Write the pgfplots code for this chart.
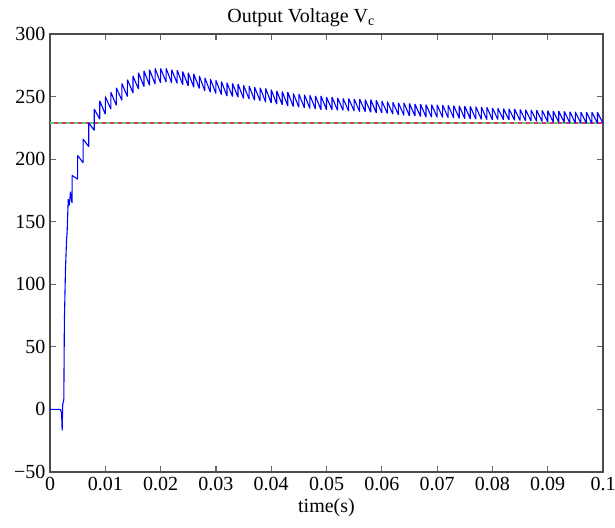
\documentclass[border=0pt]{standalone}
\usepackage{pgfplots}
\pgfplotsset{compat=1.18}
\usepackage{fontspec}
\setmainfont{Liberation Serif}
\definecolor{refgreen}{RGB}{100,205,100}
\definecolor{refmag}{RGB}{220,50,130}
\begin{document}
\begin{tikzpicture}[x=1pt,y=1pt]
\path[use as bounding box] (0,0) rectangle (615,527);
\begin{axis}[
  at={(50pt,55pt)}, anchor=south west,
  width=553pt, height=438pt, scale only axis,
  xmin=0, xmax=0.1, ymin=-50, ymax=300,
  xtick={0,0.01,0.02,0.03,0.04,0.05,0.06,0.07,0.08,0.09,0.1},
  xticklabels={\textrm{0},\textrm{0.01},\textrm{0.02},\textrm{0.03},\textrm{0.04},\textrm{0.05},\textrm{0.06},\textrm{0.07},\textrm{0.08},\textrm{0.09},\textrm{0.1}},
  ytick={-50,0,50,100,150,200,250,300},
  yticklabels={\textrm{−50},\textrm{0},\textrm{50},\textrm{100},\textrm{150},\textrm{200},\textrm{250},\textrm{300}},
  tick align=inside, major tick length=6pt,
  xtick pos=both, ytick pos=both,
  tick style={line width=1.2pt, color=black!60},
  axis line style={line width=1.2pt, color=black!70},
  tick label style={font=\fontsize{20}{24}\selectfont},
  xticklabel style={yshift=-2pt},
  yticklabel style={xshift=-1pt},
  label style={font=\fontsize{20}{24}\selectfont},
  xlabel={time(s)},
  xlabel style={yshift=-1pt},
  title={Output Voltage V\textsubscript{c}},
  title style={font=\fontsize{20}{24}\selectfont, at={(0.454,1)}, anchor=south, yshift=-2pt},
  clip=true,
]
\addplot[color=refgreen, line width=1.5pt, dash pattern=on 4pt off 4pt] coordinates {(0,229) (0.1,229)};
\addplot[color=refmag, line width=1.5pt, dash pattern=on 4pt off 4pt, dash phase=4pt] coordinates {(0,229) (0.1,229)};
\addplot[color=blue, line width=1.1pt, line join=bevel] table {
t v
0 0
0.0019 0
0.0021 -3
0.0022 -17
0.0023 4
0.0025 8
0.0026 70
0.0028 112
0.0030 136
0.0031 142
0.0033 168
0.0035 163
0.0037 174
0.0039 167
0.0040 165
0.0040 187
0.0050 184
0.0050 203
0.0060 197
0.0060 216
0.0070 210
0.0070 229
0.0080 223
0.0080 240
0.0090 232
0.0090 246.5
0.0100 236
0.0100 250
0.0110 240
0.0110 253.5
0.0120 243
0.0120 257
0.0130 247
0.0130 260.5
0.0140 250
0.0140 263.5
0.0150 253
0.0150 266.5
0.0160 256
0.0160 269
0.0170 258
0.0170 270.5
0.0180 259
0.0180 271.5
0.0190 260
0.0190 272.5
0.0200 261
0.0200 272.5
0.0210 261.5
0.0210 272.5
0.0220 261
0.0220 271.5
0.0230 260.5
0.0230 271
0.0240 259.5
0.0240 270
0.0250 258.5
0.0250 269
0.0260 257.5
0.0260 268
0.0270 256.5
0.0270 266.5
0.0280 254.5
0.0280 265
0.0290 253.5
0.0290 264
0.0300 252.5
0.0300 263
0.0310 251.5
0.0310 262
0.0320 250.5
0.0320 261
0.0330 250
0.0330 260.5
0.0340 249.5
0.0340 260
0.0350 248.5
0.0350 259
0.0360 248
0.0360 258.5
0.0370 247
0.0370 257.5
0.0380 246.5
0.0380 257
0.0390 245.5
0.0390 256.5
0.0400 245
0.0400 255.5
0.0410 244
0.0410 254.5
0.0420 243.5
0.0420 254
0.0430 242.5
0.0430 253.5
0.0440 242
0.0440 252.5
0.0450 241.5
0.0450 252
0.0460 241
0.0460 251.5
0.0470 240.5
0.0470 251
0.0480 240
0.0480 250.5
0.0490 239.5
0.0490 250.5
0.0500 239.5
0.0500 249.5
0.0510 239.5
0.0510 249.5
0.0520 239
0.0520 249
0.0530 239
0.0530 248.5
0.0540 238.5
0.0540 248.5
0.0550 238.5
0.0550 248
0.0560 238
0.0560 248
0.0570 238
0.0570 247.5
0.0580 237.5
0.0580 247.5
0.0590 237
0.0590 247
0.0600 237
0.0600 246.5
0.0610 236.5
0.0610 246
0.0620 236
0.0620 245.5
0.0630 235.5
0.0630 245
0.0640 235
0.0640 245
0.0650 234.5
0.0650 244.5
0.0660 234.5
0.0660 244
0.0670 234
0.0670 244
0.0680 233.5
0.0680 243.5
0.0690 233.5
0.0690 243.5
0.0700 233.5
0.0700 243.4
0.0710 233.3
0.0710 243.2
0.0720 233.1
0.0720 243.0
0.0730 232.9
0.0730 242.7
0.0740 232.6
0.0740 242.5
0.0750 232.4
0.0750 242.3
0.0760 232.2
0.0760 242.1
0.0770 232.0
0.0770 241.9
0.0780 231.8
0.0780 241.7
0.0790 231.6
0.0790 241.5
0.0800 231.4
0.0800 240.8
0.0810 231.7
0.0810 240.6
0.0820 231.5
0.0820 240.4
0.0830 231.3
0.0830 240.2
0.0840 231.1
0.0840 240.0
0.0850 230.9
0.0850 239.7
0.0860 230.6
0.0860 239.5
0.0870 230.4
0.0870 239.3
0.0880 230.2
0.0880 239.1
0.0890 230.0
0.0890 238.9
0.0900 229.8
0.0900 238.7
0.0910 229.6
0.0910 238.5
0.0920 229.4
0.0920 238.3
0.0930 229.2
0.0930 238.1
0.0940 229.0
0.0940 237.9
0.0950 228.8
0.0950 237.7
0.0960 228.7
0.0960 237.6
0.0970 228.6
0.0970 237.5
0.0980 228.5
0.0980 237.5
0.0990 228.5
0.0990 237.5
0.1000 228.5
};
\end{axis}
\end{tikzpicture}
\end{document}
